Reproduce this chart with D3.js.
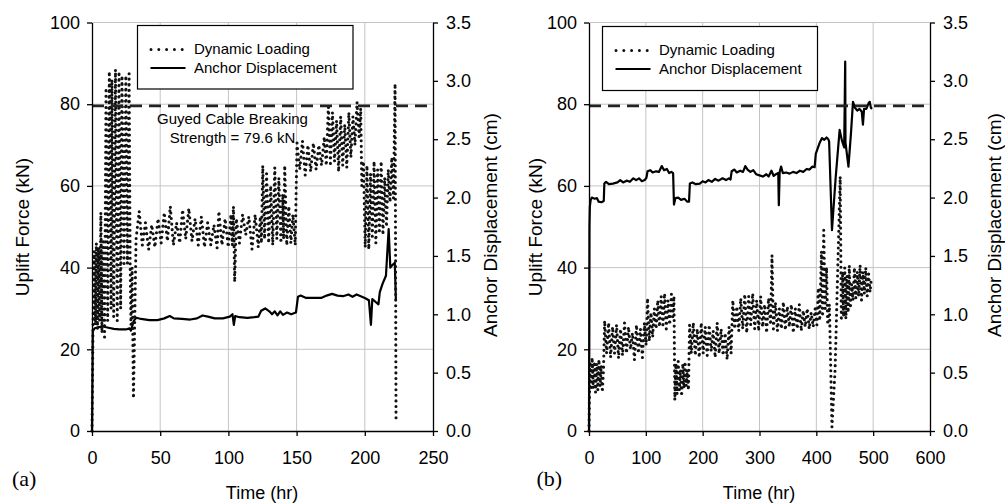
<!DOCTYPE html>
<html>
<head>
<meta charset="utf-8">
<script src="https://cdn.jsdelivr.net/npm/d3@7"></script>
<style>
  body { margin: 0; background: #fff; }
  svg text { font-family: "Liberation Sans", Arial, sans-serif; fill: #000; }
</style>
</head>
<body>
<svg id="chart" width="1005" height="504"></svg>
<script>
// ---- data: [time (hr), value] ----
// (a) dynamic loading, uplift force in kN
var dynA = [
  [0,0],[0.8,27],[1.6,44],[2.4,26],[3.2,46],[4,25],[4.8,45],[5.6,27],[6.5,53.5],[7.3,24],[8.1,47],[9.2,23],
  [10.3,84],[11.5,27],[12.7,88],[14,30],[14.6,86],
  [15.9,28],[17.2,88.5],[18.5,27],[19.8,88],[21,30],[22,87],
  [23.5,41],[24.8,87],[26,41],[27.2,87.5],[28,40],
  [28.6,26],[29.4,40],[30.4,8],[32.3,47],
  [34.6,53.8],[36.9,45.5],[39.2,51],[41.5,44.4],[43.8,50.5],[46.1,45],[48.4,52],[50.7,46],[53,53.5],[55.3,46.5],
  [57.4,55],[59.7,45.5],[62,51],[64.3,46],[66.4,54.2],[68.7,47],[71,54.5],[73.3,46.5],[75.6,52],[77.9,45.5],
  [80.2,52.5],[82.5,45],[84.8,51],[87.1,45.5],[89.4,50.5],[91.7,44.8],[93,53.8],[95.3,45.5],[97.6,52],[99.9,45],
  [101.9,53],[102.9,45.5],[103.7,55],[104.6,36.5],[105.8,52],
  [108.1,46],[110.4,53],[112.7,48],[115,52.5],[117.3,44.5],[119.6,53],[121.9,45],[123.4,52.5],[124.2,46],
  [125.2,65],[126.5,47],[128,63],[129.5,46],[131,60],[132.5,45.5],[134,64.5],[135.5,47],[137,62],[138.5,46],
  [139.8,58],[140.5,47],[141.3,65],[142.8,45.5],[144.3,55],[145.8,46],[147.3,53],[149,45.5],[150.3,70.5],
  [152.3,64],[154.3,71],[156.3,62.6],[158.3,70],[160.3,63.5],[162.3,70.5],[164.3,64],[166.3,70],[168.3,65],
  [170.3,72],[171.8,65],[173.3,80],[174.8,65.5],[176.3,78],[177.8,66],[179.3,76],[180.8,63.5],[182.3,77],
  [183.8,65],[185.3,75],[186.8,64.5],[188.3,78],[189.8,67],[191.3,77],[192.8,70],[194.3,80.5],[195.8,72],[197,79],
  [197.8,60],[199,66],[200.3,45],[201.6,65],[202.9,44.5],[204.2,63],[205.5,47],[206.8,66],[208.1,46],[209.4,64],
  [210.7,49],[212,66],[213.3,48],[214.6,62],[215.9,50],[217.2,64],[218.5,56],[219.8,67],[221,57],[222.2,85],[222.9,2.2]
];

// (a) anchor displacement in cm
var dispA = [
  [0,0],[0.6,0.86],[2,0.88],[5,0.89],[8,0.895],[12,0.885],[16,0.875],[20,0.87],[25,0.87],[27.5,0.88],
  [28.5,0.86],[29.5,0.9],[31,0.95],[32.5,0.97],[36,0.96],[42,0.95],[48,0.95],[53,0.965],[57,0.985],[60,0.965],
  [66,0.96],[72,0.955],[77,0.965],[81,0.99],[85,0.98],[90,0.965],[96,0.965],[101,0.98],[103,1.0],[104,0.91],
  [105,0.985],[108,0.975],[114,0.97],[119,0.975],[122,0.98],[124,1.03],[127,1.05],[130,1.025],[132,1.0],
  [134,1.025],[136,0.99],[138,1.025],[140,0.995],[143,1.015],[146,1.0],[149.5,1.015],[151,1.15],[153,1.16],
  [157,1.14],[163,1.14],[168,1.14],[172,1.16],[176,1.175],[180,1.16],[184,1.155],[188,1.17],[191,1.15],
  [194,1.17],[197,1.155],[200,1.14],[203,1.12],[204.5,0.91],[205.5,1.13],[208,1.105],[210,1.085],[211,1.19],
  [213,1.26],[215.5,1.33],[217.5,1.73],[218.7,1.40],[220,1.42],[222,1.44],[222.8,1.12]
];

// (b) dynamic loading, uplift force in kN
var dynB = [
  [0,0],[1.5,17],[3.5,10],[5.5,18],[7.5,10.5],[9.5,17],[11.5,9.5],[13.5,16.5],[15.5,10],[17.5,17.5],
  [19.5,11],[21.5,16],[23.5,9.5],[25.5,15],[27.5,27],
  [31,19],[34.5,26.5],[38,18],[41.5,25.5],[45,19],[48.5,26],[52,17.8],[55.5,25],[59,18.5],[62.5,26.5],
  [66,19],[69.5,25.5],[73,20],[76.5,24],[80,17.4],[83.5,26],[87,19],[90.5,25],[94,18],[97.5,26.5],
  [100.5,21],[103,32.5],[106,22],[109,29],[112,23],[115,30],[118,25],[121,32],[124,25.5],[127,33],
  [130,26],[133,33.7],[136,25],[139,32],[142,26],[145,33.5],[147.5,28],[149.5,33],
  [151,7.6],[153,16.5],[155,9],[157,17],[159,10],[161,15],[163,8.5],[165,16.5],[167,10.5],[169,17],
  [171,11],[173,15],[175,10],[177,26],
  [180,19],[183.5,26.5],[187,18.5],[190.5,25],[194,18],[197.5,26.5],[201,19],[204.5,25.5],[208,18.5],
  [211.5,26],[215,19.5],[218.5,24.5],[222,18],[225.5,26.5],[229,19],[232.5,25],[236,18.5],[239.5,24],
  [243,17.5],[246.5,25.5],[250,19],
  [253,32],[256.5,25],[260,30.5],[263.5,24.5],[267,32.5],[270.5,25],[274,33.5],[277.5,24],[281,33],
  [284.5,26],[288,33.7],[291.5,25],[295,32],[298.5,24.5],[302,33],[305.5,25.5],[309,31],[312.5,24],
  [316,32.5],[319.5,26],[322,43],[324.5,25],
  [328,31.5],[331.5,24.5],[335,30],[338.5,25],[342,31.6],[345.5,24.7],[349,30.5],[352.5,25.5],[356,31],
  [359.5,24],[363,30],[366.5,25],[370,31],[373.5,24.5],[377,29.5],[380.5,25.5],[384,30],[387.5,25],
  [391,29],[394.5,25.5],[398,30],
  [401,26],[403.5,35],[406,27],[409,44],[411,28],[413,49.2],[415.5,30],[418,40],[420,26],[423,31],
  [427.5,1],[433,15],[442,62.3],
  [444,27],[446,39],[448,28],[450,40],[452,27.5],[454,38],[456,29],[458,40.5],[460,30],[462,36],
  [464.5,32],[467,40],[469.5,32.5],[472,39],[474.5,33],[477,40.6],[479.5,32],[482,39],[484.5,33.6],
  [487,40],[489.5,33],[492,38.5],[494.5,34],[497,37.5]
];

// (b) anchor displacement in cm
var dispB = [
  [0,0],[0.8,1.75],[1.5,1.925],[3,1.98],[5,2.0],[10,1.99],[14,1.995],[17,1.965],[22,1.96],[26,1.97],
  [27,2.12],[30,2.135],[35,2.115],[42,2.12],[50,2.13],[55,2.15],[60,2.13],[66,2.145],[72,2.135],[78,2.165],
  [83,2.15],[88,2.165],[93,2.14],[98,2.15],[101,2.17],[103,2.225],[108,2.235],[112,2.215],[118,2.225],
  [123,2.22],[128,2.27],[132,2.235],[137,2.245],[141,2.21],[145,2.22],[148,2.21],[149.5,1.94],[152,1.995],
  [157,2.0],[162,1.98],[168,1.99],[173,1.965],[176,1.965],[177.5,2.12],[182,2.13],[188,2.115],[195,2.12],
  [200,2.14],[205,2.13],[210,2.15],[216,2.135],[222,2.16],[228,2.145],[235,2.165],[241,2.15],[246,2.165],
  [249,2.155],[251,2.225],[256,2.24],[260,2.215],[266,2.23],[271,2.22],[275,2.27],[279,2.24],[284,2.22],
  [289,2.235],[294,2.2],[300,2.19],[306,2.18],[312,2.2],[316,2.18],[321,2.23],[325,2.185],[329,2.2],
  [333,2.21],[334,1.935],[335.5,2.22],[338,2.265],[341,2.21],[347,2.215],[353,2.205],[359,2.22],[365,2.21],
  [371,2.23],[377,2.22],[383,2.245],[388,2.24],[393,2.265],[397,2.26],[399,2.375],[406,2.47],[410,2.51],
  [414,2.495],[418,2.515],[421,2.5],[422.5,2.48],[427.5,1.72],[434,2.17],[441,2.58],[445,2.49],[449,2.43],
  [450.8,3.165],[451.3,2.47],[456.5,2.265],[461,2.555],[464.5,2.82],[468,2.77],[472,2.745],[476,2.76],
  [480,2.735],[482,2.625],[484,2.76],[488,2.76],[492,2.81],[494,2.82],[496,2.77],[498,2.76]
];

var forceTicks = [0, 20, 40, 60, 80, 100];
var dispTicks = [0, 0.5, 1.0, 1.5, 2.0, 2.5, 3.0, 3.5];
var xTicksA = [0, 50, 100, 150, 200, 250];
var xTicksB = [0, 100, 200, 300, 400, 500, 600];
var breakingStrength = 79.6;
var seriesNames = ["Dynamic Loading", "Anchor Displacement"];

var svg = d3.select("#chart");
var plotTop = 22.5, plotBottom = 431;

function drawPanel(p) {
  var g = svg.append("g");
  var x = d3.scaleLinear().domain([p.xTicks[0], p.xTicks[p.xTicks.length - 1]]).range([p.left, p.right]);
  var y = d3.scaleLinear().domain([0, 100]).range([plotBottom, plotTop]);
  var y2 = d3.scaleLinear().domain([0, 3.5]).range([plotBottom, plotTop]);

  // grid
  g.selectAll(".vgrid").data(p.xTicks.slice(1, -1)).enter().append("line")
    .attr("x1", d => x(d)).attr("x2", d => x(d)).attr("y1", plotBottom).attr("y2", plotTop)
    .attr("stroke", "#c4c4c4").attr("stroke-width", 1);
  g.selectAll(".hgrid").data(forceTicks.slice(1)).enter().append("line")
    .attr("x1", p.left).attr("x2", p.right).attr("y1", d => y(d)).attr("y2", d => y(d))
    .attr("stroke", "#c4c4c4").attr("stroke-width", 1);

  // anchor displacement (right axis)
  g.append("path").datum(p.disp)
    .attr("d", d3.line().x(d => x(d[0])).y(d => y2(d[1])))
    .attr("fill", "none").attr("stroke", "#000").attr("stroke-width", 2.2)
    .attr("stroke-linejoin", "round");

  // dynamic loading (left axis), dotted
  g.append("path").datum(p.dyn)
    .attr("d", d3.line().x(d => x(d[0])).y(d => y(d[1])))
    .attr("fill", "none").attr("stroke", "#111").attr("stroke-width", 3.1)
    .attr("stroke-linecap", "round").attr("stroke-dasharray", "0 5.6");

  // breaking strength
  g.append("line")
    .attr("x1", p.left).attr("x2", p.right)
    .attr("y1", y(breakingStrength)).attr("y2", y(breakingStrength))
    .attr("stroke", "#222").attr("stroke-width", 2.6).attr("stroke-dasharray", "12 7");

  // axes
  var ax = g.append("g").attr("transform", "translate(0," + plotBottom + ")")
    .call(d3.axisBottom(x).tickValues(p.xTicks).tickSize(5).tickSizeOuter(0).tickPadding(15));
  var ay = g.append("g").attr("transform", "translate(" + p.left + ",0)")
    .call(d3.axisLeft(y).tickValues(forceTicks).tickSize(5).tickSizeOuter(0).tickPadding(7));
  var ay2 = g.append("g").attr("transform", "translate(" + p.right + ",0)")
    .call(d3.axisRight(y2).tickValues(dispTicks).tickFormat(d3.format(".1f")).tickSize(5).tickSizeOuter(0).tickPadding(8));
  [ax, ay, ay2].forEach(function (a) {
    a.selectAll("path, line").attr("stroke", "#000").attr("stroke-width", 1.3);
    a.selectAll("text").style("font-size", "18px").style("font-family", "'Liberation Sans', Arial, sans-serif").attr("fill", "#000");
  });

  // titles
  g.append("text").attr("transform", "translate(" + p.leftTitleX + ",227) rotate(-90)")
    .attr("text-anchor", "middle").style("font-size", "19px").text("Uplift Force (kN)");
  g.append("text").attr("transform", "translate(" + p.rightTitleX + ",225) rotate(-90)")
    .attr("text-anchor", "middle").style("font-size", "19px").text("Anchor Displacement (cm)");
  g.append("text").attr("x", (p.left + p.right) / 2 - 0.5).attr("y", 499)
    .attr("text-anchor", "middle").style("font-size", "18px").text("Time (hr)");
  g.append("text").attr("x", p.tagX).attr("y", 486)
    .style("font-family", "'Liberation Serif', 'Times New Roman', serif").style("font-size", "22px")
    .text(p.tag);

  // legend
  var L = p.legend;
  g.append("rect").attr("x", L.x).attr("y", L.y).attr("width", L.w).attr("height", L.h)
    .attr("fill", "#fff").attr("stroke", "#000").attr("stroke-width", 1.2);
  g.append("line").attr("x1", L.x + 13.5).attr("x2", L.x + 46).attr("y1", L.y + 24).attr("y2", L.y + 24)
    .attr("stroke", "#111").attr("stroke-width", 3).attr("stroke-linecap", "round").attr("stroke-dasharray", "0 7.8");
  g.append("line").attr("x1", L.x + 13).attr("x2", L.x + 48).attr("y1", L.y + 42.5).attr("y2", L.y + 42.5)
    .attr("stroke", "#000").attr("stroke-width", 2.2);
  g.selectAll(".legtext").data(seriesNames).enter().append("text")
    .attr("x", L.x + 56.5).attr("y", (d, i) => L.y + 28.5 + i * 19)
    .style("font-size", "15px").text(d => d);

  if (p.note) {
    g.selectAll(".note").data(p.note).enter().append("text")
      .attr("x", x(103)).attr("y", (d, i) => 124 + i * 18.5)
      .attr("text-anchor", "middle").style("font-size", "15px").text(d => d);
  }
}

drawPanel({
  tag: "(a)", tagX: 12, xTicks: xTicksA, left: 92, right: 433, dyn: dynA, disp: dispA,
  leftTitleX: 28.5, rightTitleX: 497,
  legend: { x: 137.5, y: 25.5, w: 215.5, h: 63.5 },
  note: ["Guyed Cable Breaking", "Strength = " + breakingStrength + " kN"]
});
drawPanel({
  tag: "(b)", tagX: 536.5, xTicks: xTicksB, left: 589, right: 930, dyn: dynB, disp: dispB,
  leftTitleX: 541.5, rightTitleX: 1001,
  legend: { x: 602.5, y: 26.5, w: 215, h: 64 }
});
</script>
</body>
</html>
